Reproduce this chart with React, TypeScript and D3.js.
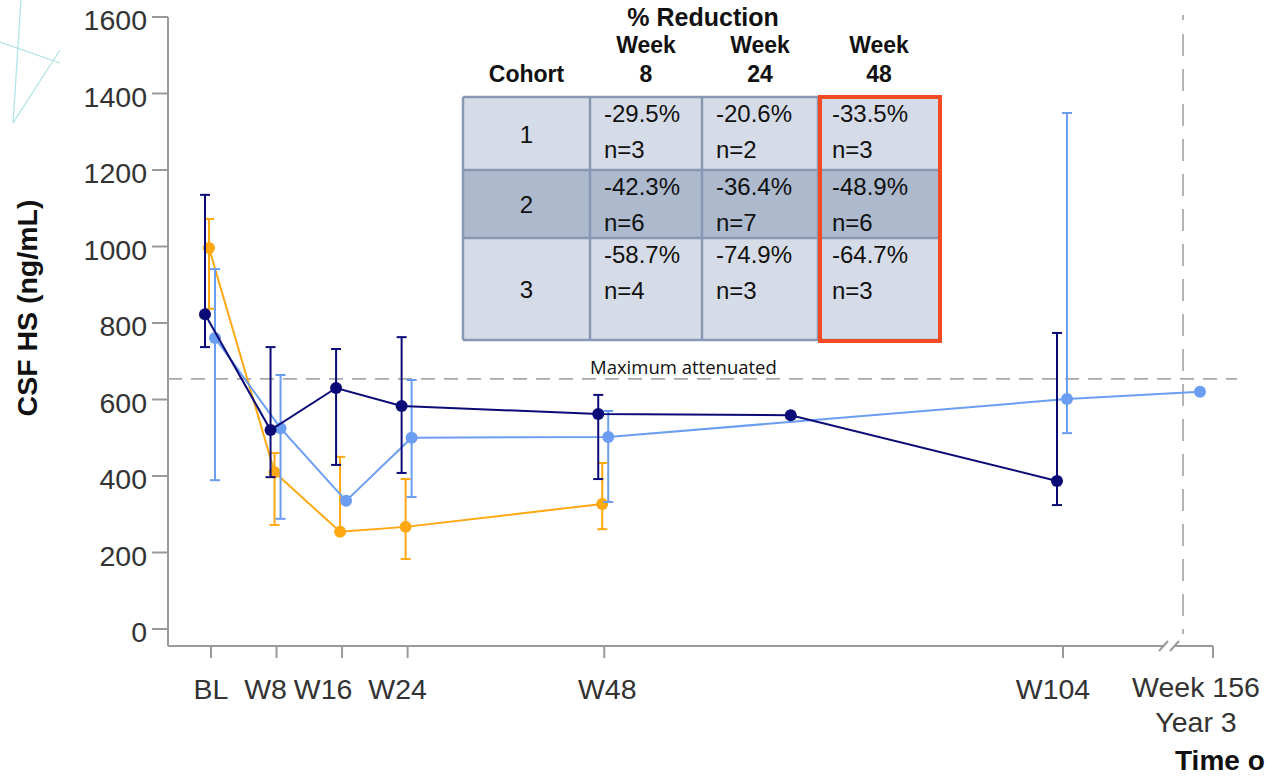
import React from 'react';
import * as d3 from 'd3';

// ---- axis definitions ----
const yTicks = [0, 200, 400, 600, 800, 1000, 1200, 1400, 1600];
const xTickWeeks = [0, 8, 16, 24, 48, 104];
const xTickLabels = ['BL', 'W8', 'W16', 'W24', 'W48', 'W104'];
const finalWeek = 156;
const finalWeekLabel = ['Week 156', 'Year 3'];
const yAxisTitle = 'CSF HS (ng/mL)';
const xAxisTitle = 'Time o';
const attenuationLevel = 654;
const attenuationLabel = 'Maximum attenuated';

// ---- cohort 1 (light blue) ----
const cohort1Weeks = [0, 8, 16, 24, 48, 104, 156];
const cohort1Mean = [761, 525, 335, 500, 502, 601, 620];
const cohort1Upper = [941, 664, null, 651, 570, 1349, null];
const cohort1Lower = [389, 288, null, 345, 332, 512, null];

// ---- cohort 2 (navy) ----
const cohort2Weeks = [0, 8, 16, 24, 48, 71.5, 104];
const cohort2Mean = [823, 520, 630, 583, 562, 559, 387];
const cohort2Upper = [1135, 737, 732, 763, 612, null, 774];
const cohort2Lower = [737, 397, 429, 408, 392, null, 324];

// ---- cohort 3 (orange) ----
const cohort3Weeks = [0, 8, 16, 24, 48];
const cohort3Mean = [996, 410, 254, 267, 327];
const cohort3Upper = [1072, 460, 450, 392, 434];
const cohort3Lower = [837, 272, null, 183, 261];

// ---- % reduction table ----
const tableTitle = '% Reduction';
const cohortNames = ['1', '2', '3'];
const tableWeeks = ['8', '24', '48'];
const reductionWeek8 = ['-29.5%', '-42.3%', '-58.7%'];
const reductionWeek24 = ['-20.6%', '-36.4%', '-74.9%'];
const reductionWeek48 = ['-33.5%', '-48.9%', '-64.7%'];
const nWeek8 = [3, 6, 4];
const nWeek24 = [2, 7, 3];
const nWeek48 = [3, 6, 3];

const W = 1268;
const H = 778;
const SANS = "'Liberation Sans', Arial, sans-serif";

const y = d3.scaleLinear().domain([0, 1600]).range([629, 17]);
const x = d3.scaleLinear().domain([0, 104, 156]).range([211, 1063, 1196]);

const AXIS_X = 168;
const AXIS_Y = 646;
const BREAK_X = 1166;
const AXIS_END = 1213;
// hand-set horizontal nudges so the crowded early-visit labels sit side by side
const labelNudge = [0, -11, -19, -10, 3, -10];

type Series = {
  key: string;
  color: string;
  dodge: number;
  r: number;
  weeks: number[];
  mean: number[];
  upper: (number | null)[];
  lower: (number | null)[];
};

const series: Series[] = [
  { key: 'c3', color: '#ffa812', dodge: -2, r: 6, weeks: cohort3Weeks, mean: cohort3Mean, upper: cohort3Upper, lower: cohort3Lower },
  { key: 'c1', color: '#6b9df2', dodge: 4, r: 6, weeks: cohort1Weeks, mean: cohort1Mean, upper: cohort1Upper, lower: cohort1Lower },
  { key: 'c2', color: '#0b0b78', dodge: -6, r: 6, weeks: cohort2Weeks, mean: cohort2Mean, upper: cohort2Upper, lower: cohort2Lower },
];

const lineGen = d3.line<[number, number]>().x(d => d[0]).y(d => d[1]);

// table layout
const colEdges = [463, 590, 702, 818, 940];
const rowEdges = [97, 170, 238, 340];
const rowFills = ['#d6dce7', '#adb9cc', '#d6dce7'];
const reductions = [reductionWeek8, reductionWeek24, reductionWeek48];
const counts = [nWeek8, nWeek24, nWeek48];

function Table() {
  const cx = (i: number) => (colEdges[i] + colEdges[i + 1]) / 2;
  return (
    <g fontFamily={SANS}>
      <text x={703} y={26} textAnchor="middle" fontWeight="bold" fontSize={25} fill="#111">{tableTitle}</text>
      <text x={cx(0)} y={82} textAnchor="middle" fontWeight="bold" fontSize={23} fill="#111">Cohort</text>
      {tableWeeks.map((w, i) => (
        <g key={w}>
          <text x={cx(i + 1)} y={53} textAnchor="middle" fontWeight="bold" fontSize={23} fill="#111">Week</text>
          <text x={cx(i + 1)} y={82} textAnchor="middle" fontWeight="bold" fontSize={23} fill="#111">{w}</text>
        </g>
      ))}
      {cohortNames.map((c, r) => (
        <rect key={'bg' + c} x={colEdges[0]} y={rowEdges[r]} width={colEdges[4] - colEdges[0]}
          height={rowEdges[r + 1] - rowEdges[r]} fill={rowFills[r]} />
      ))}
      {rowEdges.map((ry, i) => (
        <line key={'h' + i} x1={colEdges[0]} x2={colEdges[4]} y1={ry} y2={ry} stroke="#8898b4" strokeWidth={2.5} />
      ))}
      {colEdges.map((cxv, i) => (
        <line key={'v' + i} x1={cxv} x2={cxv} y1={rowEdges[0]} y2={rowEdges[3]} stroke="#8898b4" strokeWidth={2.5} />
      ))}
      {cohortNames.map((c, r) => (
        <text key={'c' + c} x={cx(0)} y={(rowEdges[r] + rowEdges[r + 1]) / 2 + 9} textAnchor="middle"
          fontSize={24} fill="#111">{c}</text>
      ))}
      {reductions.map((col, ci) =>
        col.map((val, r) => (
          <g key={`cell${ci}-${r}`} fontSize={24} fill="#111">
            <text x={colEdges[ci + 1] + 14} y={rowEdges[r] + 25}>{val}</text>
            <text x={colEdges[ci + 1] + 14} y={rowEdges[r] + 61}>{`n=${counts[ci][r]}`}</text>
          </g>
        ))
      )}
      <rect x={820} y={97} width={120} height={244} fill="none" stroke="#f24a22" strokeWidth={4} />
    </g>
  );
}

export default function App() {
  return (
    <svg width={W} height={H} viewBox={`0 0 ${W} ${H}`}
      style={{ position: 'absolute', left: 0, top: 0, background: '#fff' }}>
      <rect width={W} height={H} fill="#fff" />

      {/* faint decorative strokes in the corner */}
      <g stroke="#a9e3e4" strokeWidth={1.3} fill="none" opacity={0.9}>
        <line x1={21} y1={0} x2={13} y2={123} />
        <line x1={0} y1={42} x2={60} y2={63} />
        <line x1={13} y1={123} x2={60} y2={50} />
      </g>

      {/* y axis */}
      <g fontFamily={SANS}>
        <line x1={AXIS_X} x2={AXIS_X} y1={y(1600)} y2={AXIS_Y} stroke="#9a9a9a" strokeWidth={2} />
        {yTicks.map(t => (
          <g key={t}>
            <line x1={152} x2={AXIS_X} y1={y(t)} y2={y(t)} stroke="#9a9a9a" strokeWidth={2} />
            <text x={147} y={y(t) + 13} textAnchor="end" fontSize={28.5} fill="#333">{t}</text>
          </g>
        ))}
        <text transform={`translate(37, 308) rotate(-90)`} textAnchor="middle" fontWeight="bold"
          fontSize={28.5} fill="#111">{yAxisTitle}</text>
      </g>

      {/* x axis with break before the final visit */}
      <g fontFamily={SANS} stroke="#9a9a9a" strokeWidth={2} fill="none">
        <line x1={AXIS_X} x2={BREAK_X - 3} y1={AXIS_Y} y2={AXIS_Y} />
        <line x1={BREAK_X - 7} x2={BREAK_X + 2} y1={AXIS_Y + 5} y2={AXIS_Y - 5} />
        <line x1={BREAK_X + 4} x2={BREAK_X + 13} y1={AXIS_Y + 5} y2={AXIS_Y - 5} />
        <line x1={BREAK_X + 9} x2={AXIS_END} y1={AXIS_Y} y2={AXIS_Y} />
        <line x1={AXIS_END} x2={AXIS_END} y1={AXIS_Y} y2={AXIS_Y + 12} />
        {xTickWeeks.map(w => (
          <line key={w} x1={x(w)} x2={x(w)} y1={AXIS_Y} y2={AXIS_Y + 12} />
        ))}
      </g>
      <g fontFamily={SANS} fontSize={28.5} fill="#333" textAnchor="middle">
        {xTickWeeks.map((w, i) => (
          <text key={w} x={x(w) + labelNudge[i]} y={699}>{xTickLabels[i]}</text>
        ))}
        <text x={x(finalWeek)} y={697}>{finalWeekLabel[0]}</text>
        <text x={x(finalWeek)} y={732}>{finalWeekLabel[1]}</text>
      </g>
      <text x={1175} y={770} fontFamily={SANS} fontWeight="bold" fontSize={28} fill="#111">{xAxisTitle}</text>

      {/* reference lines */}
      <line x1={AXIS_X} x2={1237} y1={y(attenuationLevel)} y2={y(attenuationLevel)}
        stroke="#a8a8a8" strokeWidth={1.8} strokeDasharray="14 9" />
      <text x={590} y={374} fontFamily="'Open Sans', sans-serif" fontSize={18.5} fill="#111">{attenuationLabel}</text>
      <line x1={x(finalWeek) - 13} x2={x(finalWeek) - 13} y1={15} y2={AXIS_Y}
        stroke="#b4b4b4" strokeWidth={2} strokeDasharray="5 14 22 13 22 13 22 13 22 13 22 13 22 13 22 13 22 13 22 13 22 13 22 13 22 13 22 13 22 13 22 13 22 13 22 13" />

      <Table />

      {/* cohort lines, error bars and means */}
      {series.map(s => {
        const pts: [number, number][] = s.weeks.map((w, i) => [x(w) + s.dodge, y(s.mean[i])]);
        return (
          <g key={s.key}>
            <path d={lineGen(pts) || ''} fill="none" stroke={s.color} strokeWidth={2} />
            {s.weeks.map((w, i) => {
              const px = x(w) + s.dodge;
              const hi = s.upper[i];
              const lo = s.lower[i];
              return (
                <g key={w} stroke={s.color} strokeWidth={2}>
                  {hi !== null && (
                    <>
                      <line x1={px} x2={px} y1={y(s.mean[i])} y2={y(hi)} />
                      <line x1={px - 5} x2={px + 5} y1={y(hi)} y2={y(hi)} />
                    </>
                  )}
                  {lo !== null && (
                    <>
                      <line x1={px} x2={px} y1={y(s.mean[i])} y2={y(lo)} />
                      <line x1={px - 5} x2={px + 5} y1={y(lo)} y2={y(lo)} />
                    </>
                  )}
                </g>
              );
            })}
            {pts.map((p, i) => (
              <circle key={i} cx={p[0]} cy={p[1]} r={s.r} fill={s.color} />
            ))}
          </g>
        );
      })}
    </svg>
  );
}
